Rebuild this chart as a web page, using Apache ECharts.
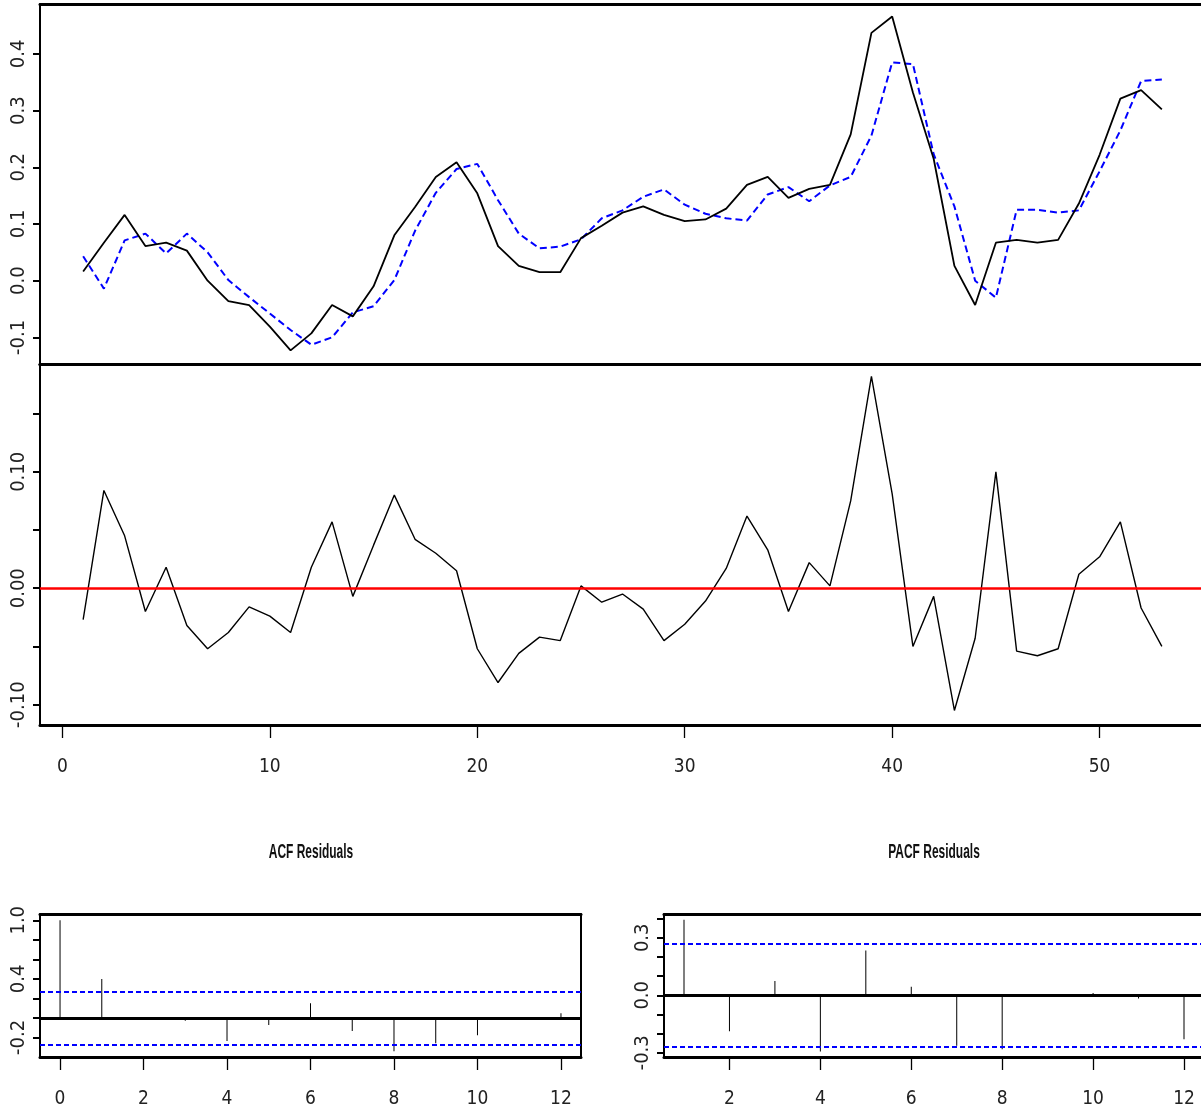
<!DOCTYPE html>
<html>
<head>
<meta charset="utf-8">
<title>Residual diagnostics</title>
<script src="https://cdn.jsdelivr.net/npm/echarts@6/dist/echarts.min.js"></script>
<style>
  html, body { margin: 0; padding: 0; background: #ffffff; }
  #chart { width: 1201px; height: 1116px; }
</style>
</head>
<body>
<div id="chart"></div>
<script>
// ---- data -------------------------------------------------------------
const timeIndex = [1, 2, 3, 4, 5, 6, 7, 8, 9, 10, 11, 12, 13, 14, 15, 16, 17, 18,
  19, 20, 21, 22, 23, 24, 25, 26, 27, 28, 29, 30, 31, 32, 33, 34, 35, 36, 37,
  38, 39, 40, 41, 42, 43, 44, 45, 46, 47, 48, 49, 50, 51, 52, 53];

// observed series (solid black)
const observed = [0.016, 0.067, 0.116, 0.061, 0.067, 0.053, 0.000, -0.036, -0.043, -0.081,
  -0.123, -0.093, -0.043, -0.063, -0.010, 0.080, 0.130, 0.183, 0.209, 0.154,
  0.061, 0.026, 0.015, 0.015, 0.075, 0.097, 0.120, 0.131, 0.116, 0.105,
  0.108, 0.127, 0.169, 0.183, 0.146, 0.162, 0.169, 0.258, 0.437, 0.466,
  0.332, 0.215, 0.026, -0.043, 0.067, 0.072, 0.067, 0.072, 0.136, 0.222,
  0.321, 0.336, 0.302];

// fitted series (dashed blue)
const fitted = [0.043, -0.014, 0.071, 0.083, 0.048, 0.083, 0.050, 0.001, -0.029, -0.058,
  -0.087, -0.113, -0.100, -0.056, -0.045, 0.001, 0.088, 0.155, 0.197, 0.206,
  0.142, 0.083, 0.057, 0.060, 0.073, 0.110, 0.124, 0.148, 0.161, 0.134,
  0.118, 0.110, 0.106, 0.152, 0.165, 0.140, 0.168, 0.183, 0.256, 0.385,
  0.382, 0.223, 0.131, 0.000, -0.030, 0.125, 0.125, 0.120, 0.124, 0.193,
  0.265, 0.352, 0.355];

const residuals = [-0.027, 0.084, 0.045, -0.020, 0.018, -0.032, -0.052, -0.038, -0.016, -0.024,
  -0.038, 0.018, 0.057, -0.007, 0.037, 0.080, 0.042, 0.030, 0.015, -0.052,
  -0.081, -0.056, -0.042, -0.045, 0.002, -0.012, -0.005, -0.018, -0.045, -0.031,
  -0.011, 0.017, 0.062, 0.033, -0.020, 0.022, 0.002, 0.075, 0.182, 0.081,
  -0.050, -0.007, -0.105, -0.043, 0.100, -0.054, -0.058, -0.052, 0.012, 0.027,
  0.057, -0.017, -0.050];

const acfLags = [0, 1, 2, 3, 4, 5, 6, 7, 8, 9, 10, 11, 12];
const acfValues = [1.0, 0.398, 0.008, -0.030, -0.237, -0.072, 0.151, -0.135, -0.342, -0.260, -0.178, 0.004, 0.049];

const pacfLags = [1, 2, 3, 4, 5, 6, 7, 8, 9, 10, 11, 12];
const pacfValues = [0.394, -0.188, 0.075, -0.293, 0.234, 0.045, -0.263, -0.281, 0.004, 0.012, -0.017, -0.229];

const ciBound = 0.269;

// ---- ticks and tick labels ----------------------------------------------
const seriesYTicks = [-0.1, 0, 0.1, 0.2, 0.3, 0.4];
const seriesYLabels = [-0.1, 0, 0.1, 0.2, 0.3, 0.4];
const residYTicks = [-0.10, -0.05, 0, 0.05, 0.10, 0.15];
const residYLabels = [-0.10, 0, 0.10];
const timeTicks = [0, 10, 20, 30, 40, 50];
const acfYTicks = [-0.2, 0, 0.2, 0.4, 0.6, 0.8, 1.0];
const acfYLabels = [-0.2, 0.4, 1.0];
const acfXTicks = [0, 2, 4, 6, 8, 10, 12];
const pacfYTicks = [-0.3, -0.2, -0.1, 0, 0.1, 0.2, 0.3, 0.4];
const pacfYLabels = [-0.3, 0, 0.3];
const pacfXTicks = [2, 4, 6, 8, 10, 12];

const panelTitles = ['ACF Residuals', 'PACF Residuals'];

// ---- styling helpers ----------------------------------------------------
const FONT = "'Liberation Sans Narrow', 'Arial Narrow', 'DejaVu Sans Condensed', 'Liberation Sans', sans-serif";
const TEXT = '#222222';

function hLine(width) {
  return { show: true, onZero: false, lineStyle: { color: '#000', width: width } };
}

function xAxes(gridIndex, min, max, ticks) {
  const bottom = {
    type: 'value', gridIndex: gridIndex, min: min, max: max, position: 'bottom',
    axisLine: hLine(3),
    splitLine: { show: false },
    axisTick: ticks
      ? { show: true, inside: false, length: 13, customValues: ticks, lineStyle: { color: '#000', width: 1.3 } }
      : { show: false },
    axisLabel: ticks
      ? { show: true, customValues: ticks, margin: 33, fontSize: 19, fontFamily: FONT, color: TEXT,
          formatter: function (v) { return String(v); } }
      : { show: false }
  };
  const top = {
    type: 'value', gridIndex: gridIndex, min: min, max: max, position: 'top',
    axisLine: hLine(3), splitLine: { show: false },
    axisTick: { show: false }, axisLabel: { show: false }
  };
  return [bottom, top];
}

function yAxes(gridIndex, min, max, ticks, labels, digits) {
  const left = {
    type: 'value', gridIndex: gridIndex, min: min, max: max, position: 'left',
    axisLine: { show: true, onZero: false, lineStyle: { color: '#000', width: 2 } },
    splitLine: { show: false },
    axisTick: { show: true, inside: false, length: 7, customValues: ticks, lineStyle: { color: '#000', width: 2 } },
    axisLabel: {
      show: true, customValues: labels, rotate: 90, margin: 11,
      fontSize: 20, fontFamily: FONT, color: TEXT,
      formatter: function (v) { return Number(v).toFixed(digits); }
    }
  };
  const right = {
    type: 'value', gridIndex: gridIndex, min: min, max: max, position: 'right',
    axisLine: { show: true, onZero: false, lineStyle: { color: '#000', width: 2 } },
    splitLine: { show: false }, axisTick: { show: false }, axisLabel: { show: false }
  };
  return [left, right];
}

function pairs(xs, ys) {
  return xs.map(function (x, i) { return [x, ys[i]]; });
}

const ciLine = { color: '#0000FF', width: 2, type: [5, 3] };
function correlogramMarks() {
  return {
    silent: true, symbol: ['none', 'none'], label: { show: false }, animation: false,
    data: [
      { yAxis: ciBound, lineStyle: ciLine },
      { yAxis: -ciBound, lineStyle: ciLine },
      { yAxis: 0, lineStyle: { color: '#000', width: 3, type: 'solid' } }
    ]
  };
}

// condensed bold panel heading, centred over its panel
function heading(text, cx, cy) {
  return {
    type: 'text', x: cx, y: cy, scaleX: 0.57, silent: true,
    style: {
      text: text, fill: '#111',
      font: "bold 21px 'Liberation Sans', Arial, sans-serif",
      textAlign: 'center', textVerticalAlign: 'middle'
    }
  };
}

// ---- chart ---------------------------------------------------------------
const chart = echarts.init(document.getElementById('chart'), null, { renderer: 'canvas' });

const option = {
  backgroundColor: '#ffffff',
  animation: false,
  graphic: [
    heading(panelTitles[0], 311, 852),
    heading(panelTitles[1], 934, 852)
  ],
  grid: [
    { left: 40, top: 4, width: 1165, height: 360, outerBoundsMode: 'none' },
    { left: 40, top: 364, width: 1165, height: 361, outerBoundsMode: 'none' },
    { left: 40, top: 914, width: 541, height: 143, outerBoundsMode: 'none' },
    { left: 664, top: 914, width: 540, height: 143, outerBoundsMode: 'none' }
  ],
  xAxis: [].concat(
    xAxes(0, -1.08, 55.08, null),
    xAxes(1, -1.08, 55.08, timeTicks),
    xAxes(2, -0.48, 12.48, acfXTicks),
    xAxes(3, 0.56, 12.44, pacfXTicks)
  ),
  yAxis: [].concat(
    yAxes(0, -0.147, 0.488, seriesYTicks, seriesYLabels, 1),
    yAxes(1, -0.1175, 0.1926, residYTicks, residYLabels, 2),
    yAxes(2, -0.40, 1.064, acfYTicks, acfYLabels, 1),
    yAxes(3, -0.322, 0.424, pacfYTicks, pacfYLabels, 1)
  ),
  series: [
    {
      name: 'observed', type: 'line', xAxisIndex: 0, yAxisIndex: 0,
      data: pairs(timeIndex, observed), showSymbol: false, z: 4,
      lineStyle: { color: '#000', width: 1.8 }
    },
    {
      name: 'fitted', type: 'line', xAxisIndex: 0, yAxisIndex: 0,
      data: pairs(timeIndex, fitted), showSymbol: false, z: 3,
      lineStyle: { color: '#0000FF', width: 2, type: [7, 4] }
    },
    {
      name: 'residuals', type: 'line', xAxisIndex: 2, yAxisIndex: 2,
      data: pairs(timeIndex, residuals), showSymbol: false, z: 3,
      lineStyle: { color: '#000', width: 1.4 },
      markLine: {
        silent: true, symbol: ['none', 'none'], label: { show: false }, animation: false,
        data: [{ yAxis: 0 }],
        lineStyle: { color: '#FF0000', width: 2.5, type: 'solid' }
      }
    },
    {
      name: 'ACF', type: 'bar', xAxisIndex: 4, yAxisIndex: 4,
      data: pairs(acfLags, acfValues), barWidth: 1,
      itemStyle: { color: '#000' },
      markLine: correlogramMarks()
    },
    {
      name: 'PACF', type: 'bar', xAxisIndex: 6, yAxisIndex: 6,
      data: pairs(pacfLags, pacfValues), barWidth: 1,
      itemStyle: { color: '#000' },
      markLine: correlogramMarks()
    }
  ]
};

chart.setOption(option);
</script>
</body>
</html>
